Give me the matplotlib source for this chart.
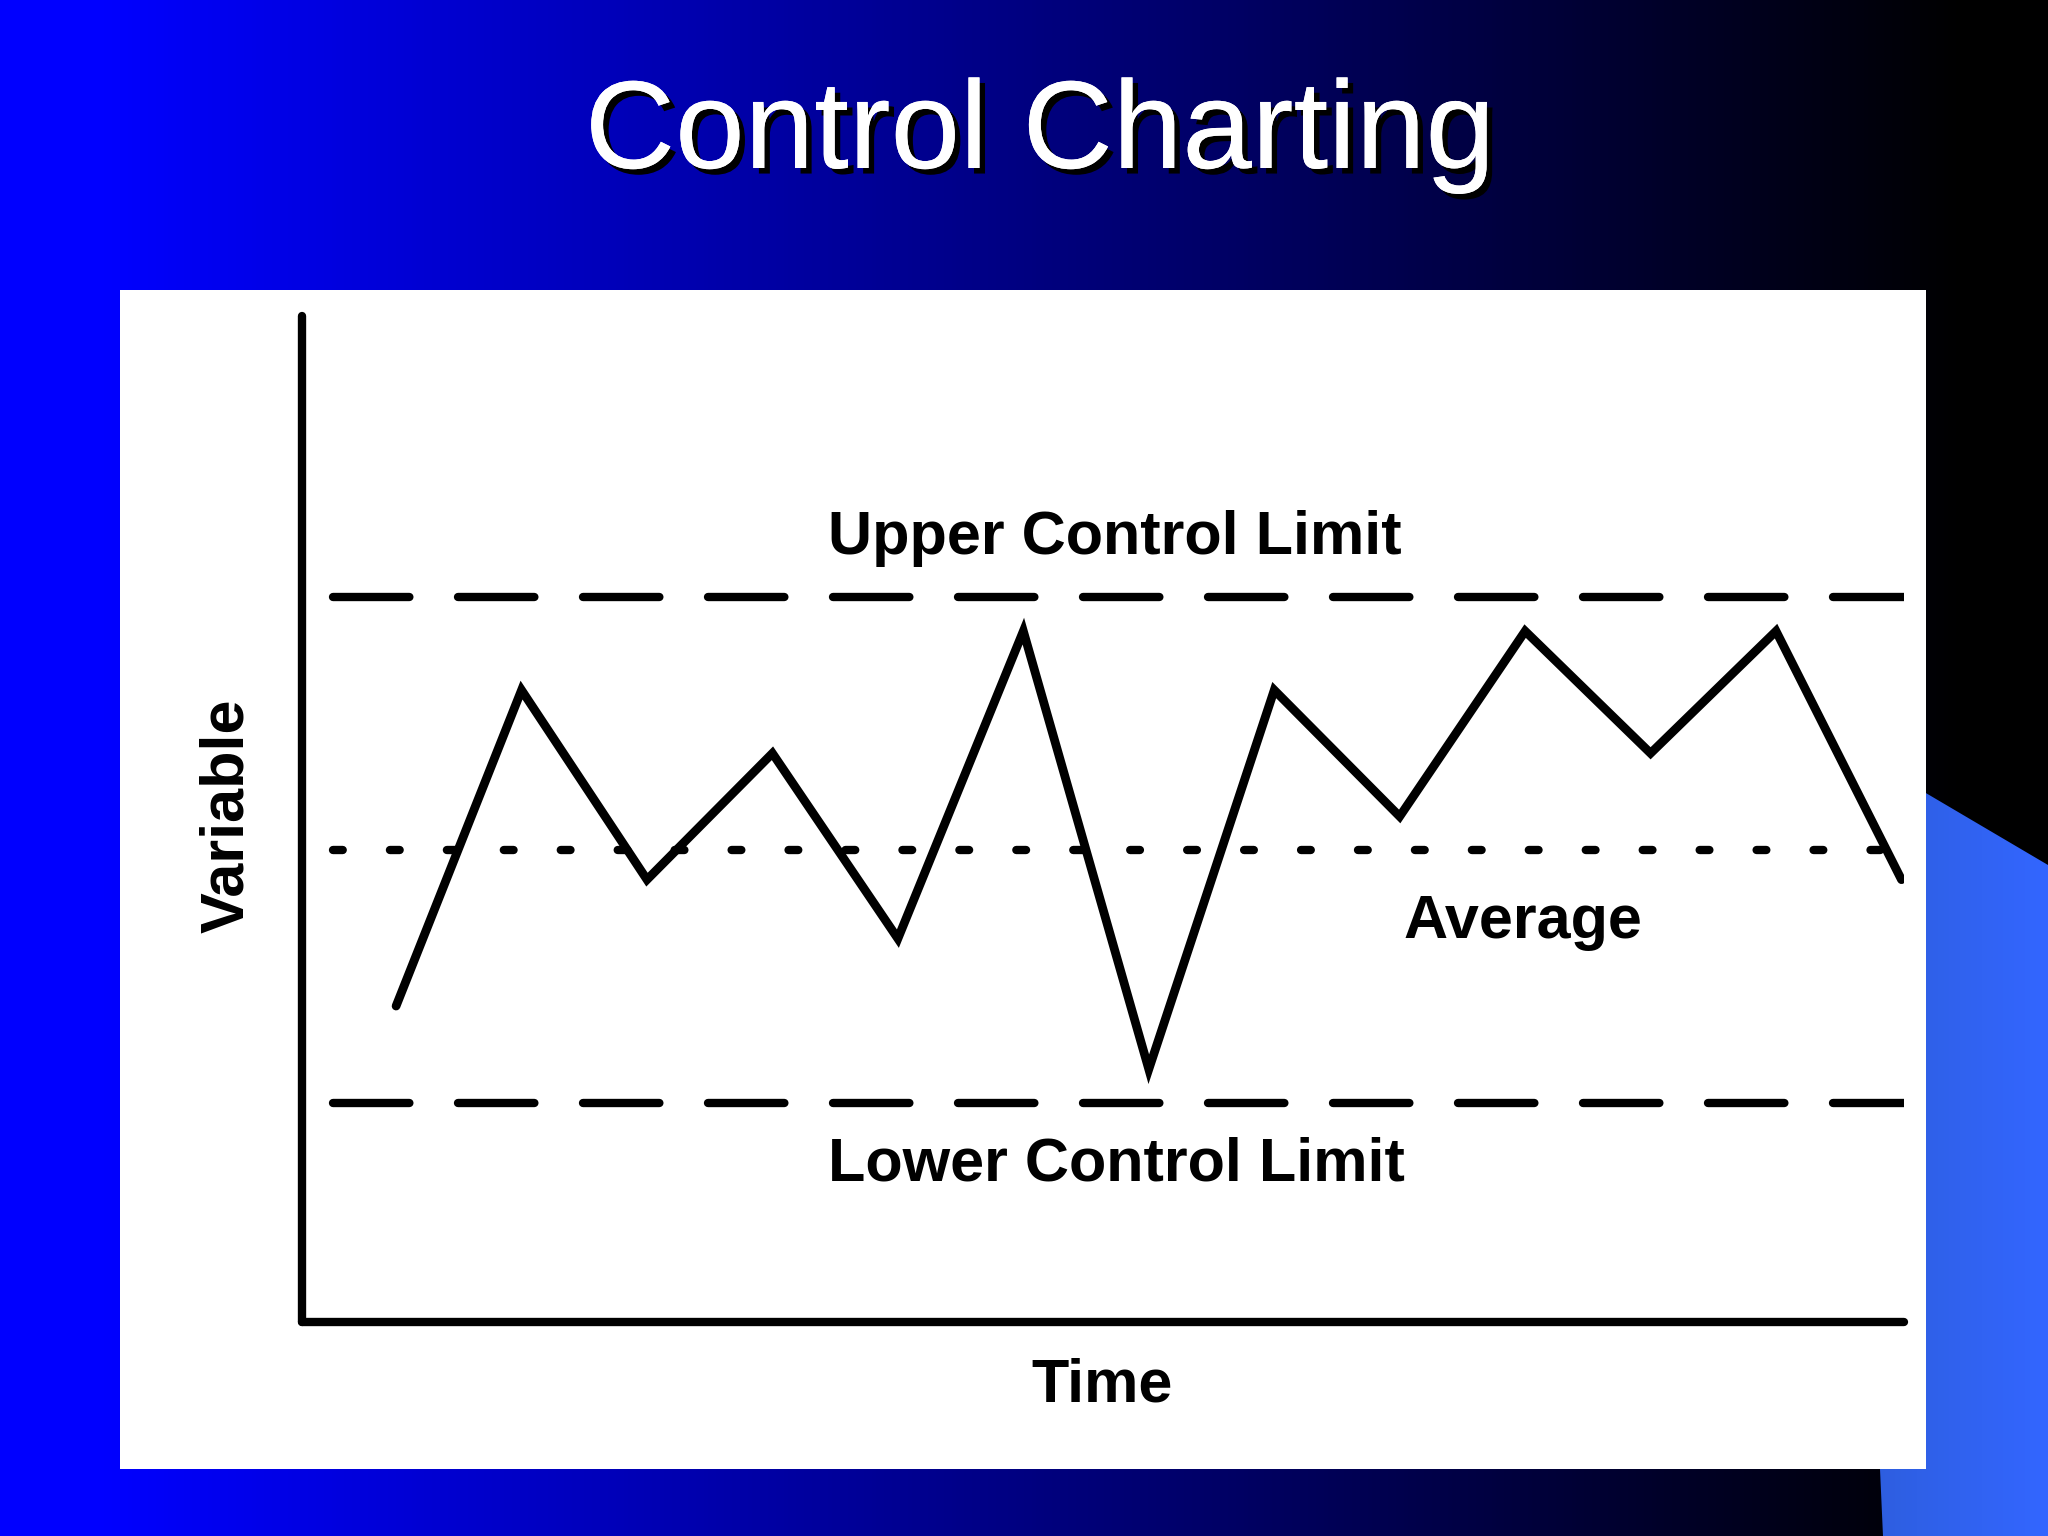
import matplotlib.pyplot as plt
import numpy as np
from matplotlib.patches import Rectangle, Polygon
import matplotlib.patheffects as pe

# данные контрольной карты
time_points = list(range(1, 14))
variable_values = [8.15, 11.9, 9.65, 11.15, 8.95, 12.6, 7.4, 11.9, 10.4, 12.6, 11.15, 12.6, 9.65]
average = 10.0
ucl = 13.0
lcl = 7.0

W, H = 2048, 1536
fig = plt.figure(figsize=(W / 100, H / 100), dpi=100)

# фон: градиент синий -> черный
bg = fig.add_axes([0, 0, 1, 1])
bg.set_xlim(0, W)
bg.set_ylim(H, 0)
bg.axis('off')
xs = np.linspace(0, 1, 512)
t = np.clip((xs - 0.05) / 0.91, 0, 1)
grad = np.zeros((2, 512, 3))
grad[:, :, 2] = 1 - t
bg.imshow(grad, extent=[0, W, H, 0], aspect='auto', zorder=0)

# голубая фигура справа
blue_grad = np.zeros((2, 64, 3))
bx = np.linspace(0, 1, 64)
blue_grad[:, :, 0] = 0.18 + 0.02 * bx
blue_grad[:, :, 1] = 0.37 + 0.03 * bx
blue_grad[:, :, 2] = 0.88 + 0.12 * bx
poly = Polygon([(1880, 766), (2048, 865), (2048, 1536), (1883, 1536), (1880, 1469)],
               closed=True, facecolor='none', edgecolor='none', zorder=1)
bg.add_patch(poly)
im = bg.imshow(blue_grad, extent=[1880, 2048, 1536, 766], aspect='auto', zorder=1)
im.set_clip_path(poly)

# белая панель
bg.add_patch(Rectangle((120, 290), 1806, 1179, facecolor='white', edgecolor='none', zorder=2))

# заголовок
bg.text(1040, 136, 'Control Charting', ha='center', va='center', color='white',
        fontsize=90, family='Liberation Sans', zorder=5,
        path_effects=[pe.withSimplePatchShadow(offset=(4, -4), shadow_rgbFace='black', alpha=1.0),
                      pe.Normal()])

# основной график
left, right = 302, 1904
top, bottom = 316, 1322
ax = fig.add_axes([left / W, 1 - bottom / H, (right - left) / W, (bottom - top) / H])
ax.patch.set_alpha(0)
ax.set_xlim(0.25, 13.02)
ax.set_ylim(4.4, 16.34)

lw_ref = 6
ax.plot(time_points, variable_values, color='black', lw=6.3, solid_joinstyle='miter',
        solid_capstyle='round', zorder=4)
ax.plot([0.5, 13.02], [ucl, ucl], color='black', lw=lw_ref, dash_capstyle='round',
        linestyle=(0, (55 / lw_ref, 35 / lw_ref)))
ax.plot([0.5, 13.02], [lcl, lcl], color='black', lw=lw_ref, dash_capstyle='round',
        linestyle=(0, (55 / lw_ref, 35 / lw_ref)))
ax.plot([0.5, 13.02], [average, average], color='black', lw=lw_ref, dash_capstyle='round',
        linestyle=(0, (7 / lw_ref, 34 / lw_ref)))

for s in ['top', 'right']:
    ax.spines[s].set_visible(False)
for s in ['left', 'bottom']:
    ax.spines[s].set_linewidth(6)
    ax.spines[s].set_capstyle('round')
ax.set_xticks([])
ax.set_yticks([])

fs = 44
ax.text(6.73, 13.70, 'Upper Control Limit', ha='center', va='center', fontsize=fs,
        fontweight='bold', family='Liberation Sans')
ax.text(6.74, 6.26, 'Lower Control Limit', ha='center', va='center', fontsize=fs,
        fontweight='bold', family='Liberation Sans')
ax.text(9.98, 9.14, 'Average', ha='center', va='center', fontsize=fs,
        fontweight='bold', family='Liberation Sans')

fig.text(1102 / W, 1 - 1386 / H, 'Time', ha='center', va='center', fontsize=fs,
         fontweight='bold', family='Liberation Sans')
fig.text(228 / W, 1 - 816 / H, 'Variable', ha='center', va='center', rotation=90,
         fontsize=fs, fontweight='bold', family='Liberation Sans')

fig.savefig('out.png', dpi=100)
